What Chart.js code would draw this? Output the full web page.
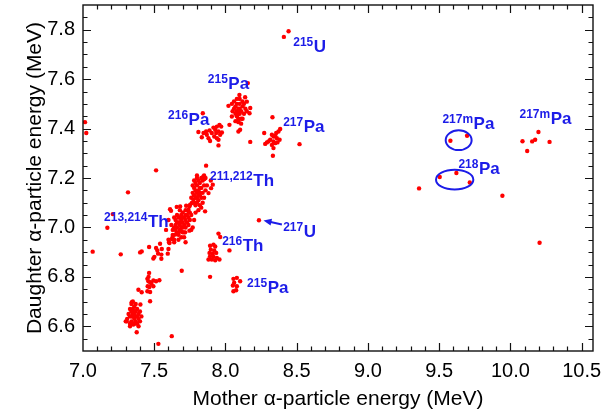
<!DOCTYPE html>
<html>
<head>
<meta charset="utf-8">
<script src="https://cdn.jsdelivr.net/npm/chart.js@4.4.1/dist/chart.umd.min.js"></script>
<style>
  html, body { margin: 0; padding: 0; background: #ffffff; }
  #wrap { width: 602px; height: 412px; }
</style>
</head>
<body>
<div id="wrap"><canvas id="c" width="602" height="412"></canvas></div>
<script>
// ---------------- data ----------------
const xTicks = [7.0, 7.5, 8.0, 8.5, 9.0, 9.5, 10.0, 10.5];
const yTicks = [6.6, 6.8, 7.0, 7.2, 7.4, 7.6, 7.8];

// 213,214Th group
const th213 = [
  [7.66,7.00],[7.67,7.02],[7.68,7.01],[7.69,7.03],[7.70,7.02],[7.71,7.04],[7.72,7.03],[7.68,6.99],
  [7.70,7.00],[7.67,7.04],[7.65,7.01],[7.73,7.05],[7.69,7.05],[7.71,7.01],[7.66,6.98],[7.64,7.00],
  [7.72,7.00],[7.74,7.04],[7.70,7.06],[7.67,6.97],[7.69,6.96],[7.71,6.98],[7.65,7.03],[7.68,7.04],
  [7.73,7.02],[7.75,7.06],[7.66,7.05],[7.63,6.99],[7.70,6.98],[7.72,7.07],[7.74,7.01],[7.76,7.05],
  [7.62,7.01],[7.64,7.04],[7.68,7.07],[7.67,6.95],[7.71,6.96],[7.75,7.03],[7.63,6.97],[7.69,7.00],
  [7.66,7.02],[7.70,7.04],[7.72,7.05],[7.68,7.02],[7.65,6.99],[7.78,7.03],[7.77,7.00],[7.79,7.06],
  [7.611,7.074],[7.618,7.067],[7.583,6.990],[7.604,6.940],[7.630,6.963],[7.642,6.998],[7.658,7.083],
  [7.682,7.085],[7.724,7.088],[7.740,7.072],[7.60,6.95],[7.64,6.94],[7.72,6.94],[7.76,6.99],[7.60,7.03]
];
// bridge and 211,212Th group
const th211 = [
  [7.747,7.085],[7.764,7.099],[7.740,7.065],[7.775,7.112],[7.752,7.092],
  [7.80,7.14],[7.81,7.15],[7.82,7.13],[7.79,7.12],[7.83,7.16],[7.80,7.17],[7.82,7.18],[7.78,7.13],
  [7.81,7.11],[7.84,7.14],[7.79,7.15],[7.83,7.12],[7.80,7.10],[7.82,7.16],[7.85,7.17],[7.78,7.16],
  [7.81,7.19],[7.84,7.19],[7.79,7.18],[7.83,7.20],[7.80,7.20],[7.77,7.14],[7.78,7.10],[7.82,7.09],
  [7.85,7.12],[7.86,7.15],[7.81,7.13],[7.79,7.09],[7.84,7.10],[7.80,7.12],[7.82,7.14],[7.83,7.08],
  [7.81,7.07],[7.86,7.20],[7.80,7.21],[7.78,7.19],[7.87,7.17],[7.76,7.12],[7.77,7.17],[7.85,7.21],
  [7.864,7.250],[7.845,7.206],[7.852,7.196],[7.897,7.190],[7.911,7.173],[7.899,7.159],[7.881,7.139],
  [7.857,7.065]
];
// group near (7.5, 6.9)
const grpC = [
  [7.464,6.921],[7.513,6.917],[7.541,6.934],[7.522,6.907],[7.553,6.913],[7.600,6.913],[7.607,6.937],
  [7.595,6.894],[7.550,6.890],[7.527,6.894],[7.501,6.881],[7.494,6.874],[7.550,6.873],[7.412,6.903],
  [7.401,6.899],[7.265,6.891],[7.623,6.953],[7.640,6.950],[7.670,6.977],[7.693,6.984],[7.717,6.980],
  [7.747,6.987],[7.647,6.971]
];
// group near (7.48, 6.78)
const grpD = [
  [7.464,6.816],[7.452,6.792],[7.459,6.782],[7.471,6.778],[7.494,6.785],[7.513,6.782],[7.536,6.786],
  [7.454,6.762],[7.466,6.759],[7.494,6.762],[7.452,6.742],[7.471,6.739],[7.389,6.748],[7.412,6.738],
  [7.471,6.701],[7.693,6.825],[7.460,6.800],[7.480,6.772]
];
// group near (7.36, 6.65)
const grpE = [
  [7.36,6.65],[7.35,6.64],[7.37,6.66],[7.34,6.66],[7.38,6.64],[7.36,6.63],[7.33,6.64],[7.35,6.67],
  [7.37,6.62],[7.39,6.65],[7.34,6.62],[7.36,6.68],[7.38,6.67],[7.32,6.65],[7.35,6.61],[7.40,6.66],
  [7.33,6.67],[7.37,6.69],[7.39,6.63],[7.31,6.63],[7.34,6.69],[7.36,6.61],[7.38,6.61],[7.35,6.70],
  [7.40,6.62],[7.33,6.61],[7.36,6.66],[7.35,6.65],[7.37,6.64],[7.34,6.64],[7.41,6.64],[7.30,6.62],
  [7.33,6.60],[7.39,6.60],[7.342,6.697],[7.403,6.688],[7.307,6.620],[7.354,6.607],[7.377,6.576],
  [7.623,6.560],[7.529,6.529]
];
// 215Pa (upper) group
const pa215 = [
  [8.098,7.536],[8.138,7.527],[8.150,7.509],[8.045,7.500],[8.021,7.492],[8.174,7.483],[8.169,7.462],
  [8.045,7.449],[8.028,7.415],[8.091,7.426],[8.103,7.395],[8.091,7.388],[8.174,7.346],[8.157,7.584],
  [8.08,7.47],[8.09,7.48],[8.10,7.46],[8.07,7.49],[8.11,7.47],[8.10,7.50],[8.12,7.49],[8.08,7.45],
  [8.06,7.48],[8.09,7.44],[8.11,7.44],[8.13,7.46],[8.07,7.46],[8.12,7.51],[8.10,7.52],[8.08,7.50],
  [8.05,7.47],[8.14,7.48],[8.09,7.43],[8.11,7.42],[8.06,7.51],[8.13,7.50],[8.10,7.48],[8.08,7.52],
  [8.12,7.44],[8.07,7.43],[8.15,7.47],[8.09,7.46]
];
// 216Pa group
const pa216 = [
  [7.841,7.462],[7.810,7.386],[7.846,7.382],[7.864,7.388],[7.888,7.392],[7.904,7.382],[7.869,7.375],
  [7.834,7.365],[7.881,7.361],[7.892,7.350],[7.928,7.395],[7.940,7.408],[7.958,7.415],[7.970,7.408],
  [7.951,7.388],[7.935,7.382],[7.963,7.375],[7.940,7.361],[7.951,7.355],[7.975,7.384],[7.916,7.404],
  [7.921,7.368],[7.951,7.332]
];
// 217Pa group
const pa217 = [
  [8.330,7.446],[8.272,7.382],[8.520,7.337],[8.333,7.290],[8.326,7.375],[8.337,7.368],[8.356,7.382],
  [8.372,7.388],[8.384,7.398],[8.361,7.361],[8.314,7.355],[8.291,7.344],[8.279,7.338],[8.337,7.348],
  [8.349,7.341],[8.326,7.334],[8.365,7.344],[8.337,7.321],[8.380,7.355],[8.302,7.348],[8.350,7.370]
];
// 216Th group
const th216 = [
  [7.951,6.975],[7.963,6.961],[8.028,6.907],[7.892,6.800],[7.892,6.926],[7.916,6.930],[7.928,6.923],
  [7.897,6.910],[7.921,6.907],[7.888,6.897],[7.911,6.894],[7.935,6.897],[7.892,6.883],[7.916,6.881],
  [7.940,6.876],[7.958,6.870],[7.881,6.870],[7.904,6.870],[7.928,6.867]
];
// 215Pa (lower) group
const pa215b = [
  [8.056,6.792],[8.080,6.796],[8.103,6.782],[8.061,6.776],[8.052,6.765],[8.080,6.762],[8.056,6.742],
  [8.075,6.746]
];
// uranium and isolated events
const uGroup = [[8.410,7.771],[8.443,7.794],[8.235,7.029]];
const isolated = [
  [7.014,7.426],[7.023,7.382],[7.513,7.231],[7.316,7.142],[7.209,7.054],[7.171,6.999],[7.068,6.902]
];
// high-energy events
const highE = [
  [9.579,7.351],[9.696,7.371],[9.504,7.204],[9.621,7.220],[9.715,7.182],[9.359,7.158],[9.944,7.128],
  [10.205,6.938],[10.085,7.349],[10.118,7.309],[10.153,7.348],[10.174,7.355],[10.197,7.386],[10.275,7.346]
];

// isotope annotations: superscript, symbol, anchor x, anchor y (data units)
const isoSup  = ['215','215','216','217','211,212','213,214','217','216','215','217m','218','217m'];
const isoSym  = ['U','Pa','Pa','Pa','Th','Th','U','Th','Pa','Pa','Pa','Pa'];
const isoX    = [8.476,7.876,7.597,8.405,7.892,7.148,8.405,7.977,8.152,9.523,9.635,10.064];
const isoY    = [7.710,7.561,7.415,7.387,7.169,7.003,6.963,6.906,6.736,7.399,7.217,7.419];

// ellipses: centre x, centre y, half-width, half-height (data units)
const ellCx = [9.637, 9.609];
const ellCy = [7.353, 7.193];
const ellRx = [0.091, 0.131];
const ellRy = [0.040, 0.040];

// arrow pointing to 217U event: tail -> head (data units)
const arrowFrom = [8.396, 7.012];
const arrowTo   = [8.267, 7.028];

// ---------------- chart ----------------
const allPoints = [].concat(th213, th211, grpC, grpD, grpE, pa215, pa216, pa217, th216, pa215b, uGroup, isolated, highE)
  .map(p => ({x: p[0], y: p[1]}));

const FONT = "'Liberation Sans', Arial, Helvetica, sans-serif";
const BLUE = '#1c1ce8';

const deco = {
  id: 'deco',
  afterDatasetsDraw(chart) {
    const {ctx, chartArea: a, scales} = chart;
    const x = scales.x, y = scales.y;
    ctx.save();
    // frame
    ctx.strokeStyle = '#111';
    ctx.lineWidth = 1.4;
    ctx.strokeRect(a.left, a.top, a.right - a.left, a.bottom - a.top);
    // inward ticks
    ctx.lineWidth = 1.2;
    ctx.beginPath();
    for (let i = 71; i <= 105; i++) {
      const px = Math.round(x.getPixelForValue(i / 10)) + 0.5;
      const L = (i % 5 === 0) ? 8 : 4.5;
      ctx.moveTo(px, a.bottom); ctx.lineTo(px, a.bottom - L);
      ctx.moveTo(px, a.top); ctx.lineTo(px, a.top + L);
    }
    for (let i = 131; i <= 157; i++) {
      const py = Math.round(y.getPixelForValue(i / 20)) + 0.5;
      const L = (i % 4 === 0) ? 8 : 4.5;
      ctx.moveTo(a.left, py); ctx.lineTo(a.left + L, py);
      ctx.moveTo(a.right, py); ctx.lineTo(a.right - L, py);
    }
    ctx.stroke();

    // ellipses
    ctx.strokeStyle = BLUE;
    ctx.lineWidth = 2;
    for (let i = 0; i < ellCx.length; i++) {
      const cx = x.getPixelForValue(ellCx[i]);
      const cy = y.getPixelForValue(ellCy[i]);
      const rx = Math.abs(x.getPixelForValue(ellCx[i] + ellRx[i]) - cx);
      const ry = Math.abs(y.getPixelForValue(ellCy[i] + ellRy[i]) - cy);
      ctx.beginPath();
      ctx.ellipse(cx, cy, rx, ry, 0, 0, Math.PI * 2);
      ctx.stroke();
    }

    // arrow
    const x0 = x.getPixelForValue(arrowFrom[0]), y0 = y.getPixelForValue(arrowFrom[1]);
    const x1 = x.getPixelForValue(arrowTo[0]), y1 = y.getPixelForValue(arrowTo[1]);
    const ang = Math.atan2(y1 - y0, x1 - x0);
    ctx.beginPath();
    ctx.moveTo(x0, y0);
    ctx.lineTo(x1 - 5 * Math.cos(ang), y1 - 5 * Math.sin(ang));
    ctx.stroke();
    ctx.fillStyle = BLUE;
    ctx.beginPath();
    ctx.moveTo(x1, y1);
    ctx.lineTo(x1 - 8 * Math.cos(ang) + 3.5 * Math.sin(ang), y1 - 8 * Math.sin(ang) - 3.5 * Math.cos(ang));
    ctx.lineTo(x1 - 8 * Math.cos(ang) - 3.5 * Math.sin(ang), y1 - 8 * Math.sin(ang) + 3.5 * Math.cos(ang));
    ctx.closePath();
    ctx.fill();

    // isotope labels
    ctx.textBaseline = 'alphabetic';
    ctx.textAlign = 'left';
    for (let i = 0; i < isoSup.length; i++) {
      const px = x.getPixelForValue(isoX[i]);
      const py = y.getPixelForValue(isoY[i]);
      ctx.font = 'bold 12px ' + FONT;
      ctx.fillText(isoSup[i], px, py - 6);
      const w = ctx.measureText(isoSup[i]).width;
      ctx.font = 'bold 17px ' + FONT;
      ctx.fillText(isoSym[i], px + w + 0.5, py);
    }
    ctx.restore();
  }
};

new Chart(document.getElementById('c'), {
  type: 'scatter',
  data: {
    datasets: [{
      data: allPoints,
      backgroundColor: '#ff0000',
      borderWidth: 0,
      pointRadius: 2.2,
      pointHoverRadius: 2.2
    }]
  },
  options: {
    responsive: false,
    animation: false,
    events: [],
    layout: { padding: { left: 0, right: 9, top: 5, bottom: 0 } },
    plugins: { legend: { display: false }, tooltip: { enabled: false } },
    scales: {
      x: {
        type: 'linear',
        min: 7.0, max: 10.58,
        grid: { display: false, drawTicks: false },
        border: { display: false },
        afterBuildTicks: s => { s.ticks = xTicks.map(v => ({value: v})); },
        afterFit: s => { s.height = 61; s.paddingLeft = 0; s.paddingRight = 0; },
        ticks: {
          color: '#000', padding: 8, maxRotation: 0, autoSkip: false,
          font: { family: FONT, size: 20 },
          callback: v => Number(v).toFixed(1)
        },
        title: {
          display: true, text: 'Mother α-particle energy (MeV)', color: '#000',
          font: { family: FONT, size: 21 }, padding: { top: 0, bottom: 0 }
        }
      },
      y: {
        type: 'linear',
        min: 6.5, max: 7.9,
        grid: { display: false, drawTicks: false },
        border: { display: false },
        afterBuildTicks: s => { s.ticks = yTicks.map(v => ({value: v})); },
        afterFit: s => { s.width = 83; s.paddingTop = 0; s.paddingBottom = 0; },
        ticks: {
          color: '#000', padding: 8, autoSkip: false,
          font: { family: FONT, size: 20 },
          callback: v => Number(v).toFixed(1)
        },
        title: {
          display: true, text: 'Daughter α-particle energy (MeV)', color: '#000',
          font: { family: FONT, size: 21 }, padding: { top: 23, bottom: 0 }
        }
      }
    }
  },
  plugins: [deco]
});
</script>
</body>
</html>
